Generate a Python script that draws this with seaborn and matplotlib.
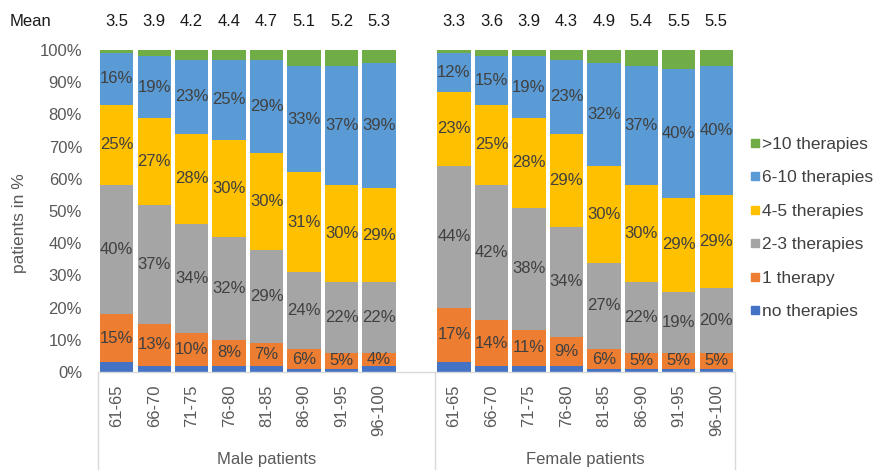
import numpy as np
import pandas as pd
import matplotlib
matplotlib.use("Agg")
import matplotlib.pyplot as plt
import matplotlib.transforms as mtransforms
from matplotlib.lines import Line2D
from matplotlib.ticker import FuncFormatter
import seaborn as sns

# ---- data -----------------------------------------------------------------
age_groups = ["61-65", "66-70", "71-75", "76-80", "81-85", "86-90", "91-95", "96-100"]
groups = ["Male patients", "Female patients"]
categories = [">10 therapies", "6-10 therapies", "4-5 therapies",
              "2-3 therapies", "1 therapy", "no therapies"]
colors = ["#70AD47", "#5B9BD5", "#FFC000", "#A5A5A5", "#ED7D31", "#4472C4"]

# shares in percent, one value per age group
male_none = [3, 2, 2, 2, 2, 1, 1, 2]
male_one = [15, 13, 10, 8, 7, 6, 5, 4]
male_two_three = [40, 37, 34, 32, 29, 24, 22, 22]
male_four_five = [25, 27, 28, 30, 30, 31, 30, 29]
male_six_ten = [16, 19, 23, 25, 29, 33, 37, 39]
male_over_ten = [1, 2, 3, 3, 3, 5, 5, 4]
male_mean = ["3.5", "3.9", "4.2", "4.4", "4.7", "5.1", "5.2", "5.3"]

female_none = [3, 2, 2, 2, 1, 1, 1, 1]
female_one = [17, 14, 11, 9, 6, 5, 5, 5]
female_two_three = [44, 42, 38, 34, 27, 22, 19, 20]
female_four_five = [23, 25, 28, 29, 30, 30, 29, 29]
female_six_ten = [12, 15, 19, 23, 32, 37, 40, 40]
female_over_ten = [1, 2, 2, 3, 4, 5, 6, 5]
female_mean = ["3.3", "3.6", "3.9", "4.3", "4.9", "5.4", "5.5", "5.5"]

# stacking order from the bottom up
male_series = [male_none, male_one, male_two_three, male_four_five, male_six_ten, male_over_ten]
female_series = [female_none, female_one, female_two_three, female_four_five, female_six_ten, female_over_ten]
bottom_up = categories[::-1]

# ---- long table: male bars on slots 0-7, female bars on slots 9-16 ----------
offsets = [0, 9]
rows = []
for off, series in zip(offsets, [male_series, female_series]):
    for cat, vals in zip(bottom_up, series):
        for i, v in enumerate(vals):
            rows.append({"pos": off + i, "pct": v, "category": cat})
df = pd.DataFrame(rows)

# ---- figure ---------------------------------------------------------------
sns.set_theme(style="white")
plt.rcParams["font.family"] = ["Liberation Sans", "DejaVu Sans"]

fig = plt.figure(figsize=(8.78, 4.70), dpi=100)
ax = fig.add_axes([98 / 878, 98 / 470, 637 / 878, 322 / 470])

sns.histplot(data=df, x="pos", weights="pct", hue="category",
             hue_order=categories, palette=colors, multiple="stack",
             discrete=True, shrink=0.89, linewidth=0, alpha=1,
             legend=False, ax=ax)

ax.set_xlim(-0.5, 16.5)
ax.set_ylim(0, 100)

tick_grey = "#595959"
label_dark = "#404040"

# segment labels for the four middle categories
for off, series in zip(offsets, [male_series, female_series]):
    cum = np.zeros(len(age_groups))
    for k, vals in enumerate(series):
        vals = np.asarray(vals, dtype=float)
        if 1 <= k <= 4:
            for i, v in enumerate(vals):
                ax.text(off + i, cum[i] + v / 2, f"{int(v)}%", ha="center",
                        va="center", fontsize=12, color=label_dark)
        cum += vals

# axes and ticks
positions = list(range(0, 8)) + list(range(9, 17))
ax.set_xticks(positions)
ax.set_xticklabels(age_groups + age_groups, rotation=90, fontsize=12, color=tick_grey)
ax.set_yticks(np.arange(0, 101, 10))
ax.yaxis.set_major_formatter(FuncFormatter(lambda v, _: f"{int(v)}%"))
ax.tick_params(axis="y", length=0, pad=11.5, labelsize=12, labelcolor=tick_grey)
ax.tick_params(axis="x", length=0, pad=9, labelsize=12, labelcolor=tick_grey)
ax.set_xlabel("")
ax.set_ylabel("")
for s in ax.spines.values():
    s.set_visible(False)

line_grey = "#D9D9D9"
trans = mtransforms.blended_transform_factory(ax.transData, ax.transAxes)
ax.plot([-0.5, 16.5], [0, 0], transform=trans, color=line_grey, lw=1, clip_on=False)
for xb in [-0.5, 8.5, 16.5]:
    ax.plot([xb, xb], [0, -0.32], transform=trans, color=line_grey, lw=1, clip_on=False)

# group names under the age ticks
for name, xc in zip(groups, [4.0, 12.5]):
    ax.text(xc, -0.273, name, transform=trans, ha="center", va="center",
            fontsize=12, color=tick_grey)

# mean row above the bars
fig.text(10 / 878, 1 - 22 / 470, "Mean", ha="left", va="center", fontsize=12, color="#1a1a1a")
for off, means in zip(offsets, [male_mean, female_mean]):
    for i, m in enumerate(means):
        ax.text(off + i, 1.087, m, transform=trans, ha="center", va="center",
                fontsize=12, color="#1a1a1a")

fig.text(20 / 878, 1 - 223 / 470, "patients in %", rotation=90, ha="center",
         va="center", fontsize=12.5, color=tick_grey)

handles = [Line2D([], [], marker="s", linestyle="none", color=c, markersize=6)
           for c in colors]
fig.legend(handles, categories, loc="center left", bbox_to_anchor=(0.854, 0.515),
           frameon=False, fontsize=12.5, handlelength=0.6, handletextpad=0.1,
           labelspacing=1.05, borderaxespad=0, borderpad=0, labelcolor="#404040")

fig.savefig("out.png", dpi=100)
